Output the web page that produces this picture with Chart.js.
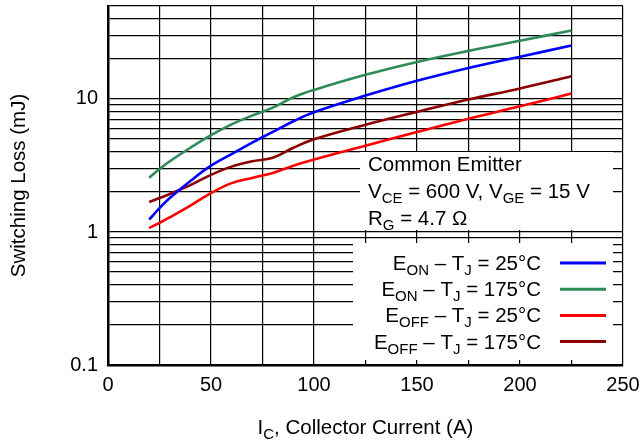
<!DOCTYPE html>
<html><head><meta charset="utf-8">
<script src="https://cdn.jsdelivr.net/npm/chart.js@4/dist/chart.umd.min.js"></script>
<style>html,body{margin:0;padding:0;background:#fff;overflow:hidden}#wrap{width:640px;height:443px;position:relative}</style>
</head><body><div id="wrap"><canvas id="c" width="640" height="443"></canvas></div>
<script>
const currentA  = [20, 25, 30, 40, 50, 60, 70, 80, 90, 100, 125, 150, 175, 200, 225];
const eonTj25   = [1.24, 1.51, 1.80, 2.42, 3.15, 3.85, 4.7, 5.65, 6.8, 7.95, 10.6, 13.7, 17.1, 20.8, 25.2];
const eonTj175  = [2.56, 2.97, 3.4, 4.3, 5.35, 6.45, 7.5, 8.6, 10.3, 11.7, 15.2, 19.0, 23.0, 27.4, 32.7];
const eoffTj25  = [1.07, 1.17, 1.29, 1.58, 1.96, 2.33, 2.55, 2.78, 3.15, 3.5, 4.45, 5.64, 7.1, 8.8, 11.0];
const eoffTj175 = [1.68, 1.80, 1.93, 2.25, 2.69, 3.1, 3.4, 3.62, 4.3, 4.98, 6.4, 8.0, 9.9, 12.0, 14.8];
const xTickLabels = [0, 50, 100, 150, 200, 250];
const yTickLabels = [0.1, 1, 10];
const yMin = 0.1, yMax = 50, xMin = 0, xMax = 250, xStep = 25;

const legendRuns = [
  [['E',0],['ON',1],[' \u2013 T',0],['J',1],[' = 25\u00B0C',0]],
  [['E',0],['ON',1],[' \u2013 T',0],['J',1],[' = 175\u00B0C',0]],
  [['E',0],['OFF',1],[' \u2013 T',0],['J',1],[' = 25\u00B0C',0]],
  [['E',0],['OFF',1],[' \u2013 T',0],['J',1],[' = 175\u00B0C',0]]
];
const noteRuns = [
  [['Common Emitter',0]],
  [['V',0],['CE',1],[' = 600 V, V',0],['GE',1],[' = 15 V',0]],
  [['R',0],['G',1],[' = 4.7 \u03A9',0]]
];
const colors = ['#0000ff', '#2e8b57', '#ff0000', '#8b0000'];
const seriesVals = [eonTj25, eonTj175, eoffTj25, eoffTj175];

const FAM = '"Liberation Sans", Arial, Helvetica, sans-serif';
const MAIN = 20.5, SUB = 15, SUBDY = 5, TICK = 20;

function runsWidth(ctx, runs){
  let w = 0;
  for (const [t,s] of runs){ ctx.font = (s?SUB:MAIN)+'px '+FAM; w += ctx.measureText(t).width; }
  return w;
}
function drawRuns(ctx, runs, x, y, align){
  let cx = align === 'right' ? x - runsWidth(ctx, runs) : align === 'center' ? x - runsWidth(ctx, runs)/2 : x;
  ctx.textBaseline = 'alphabetic'; ctx.textAlign = 'left'; ctx.fillStyle = '#000';
  for (const [t,s] of runs){
    ctx.font = (s?SUB:MAIN)+'px '+FAM;
    ctx.fillText(t, cx, y + (s?SUBDY:0));
    cx += ctx.measureText(t).width;
  }
}

const decor = {
  id: 'decor',
  beforeDatasetsDraw(chart){
    const {ctx, chartArea: a} = chart;
    ctx.save(); ctx.fillStyle = '#fff';
    ctx.fillRect(360, 152, a.right - 10 - 360, 230 - 152);
    ctx.fillRect(353, 243, a.right - 10 - 353, 360 - 243);
    ctx.restore();
  },
  afterDraw(chart){
    const {ctx, chartArea: a} = chart;
    ctx.save();
    noteRuns.forEach((r, i) => drawRuns(ctx, r, 368, 171 + i*26.8, 'left'));
    legendRuns.forEach((r, i) => {
      const yc = 263 + i*26.2;
      drawRuns(ctx, r, 541, yc + 7, 'right');
      ctx.strokeStyle = colors[i]; ctx.lineWidth = 3;
      ctx.beginPath(); ctx.moveTo(560, yc); ctx.lineTo(606, yc); ctx.stroke();
    });
    drawRuns(ctx, [['I',0],['C',1],[', Collector Current (A)',0]], (a.left + a.right)/2, 434, 'center');
    ctx.translate(25, (a.top + a.bottom)/2);
    ctx.rotate(-Math.PI/2);
    ctx.font = MAIN+'px '+FAM; ctx.textAlign = 'center'; ctx.textBaseline = 'alphabetic'; ctx.fillStyle = '#000';
    ctx.fillText('Switching Loss (mJ)', 0, 0);
    ctx.restore();
  }
};

const datasets = seriesVals.map((vals, i) => ({
  data: currentA.map((x, k) => ({x, y: vals[k]})),
  borderColor: colors[i], borderWidth: 2.6, pointRadius: 0,
  tension: 0.4, fill: false
}));

const near = (v, list) => list.some(t => Math.abs(v - t) < 1e-9 * Math.max(1, t));

new Chart(document.getElementById('c'), {
  type: 'line',
  data: { datasets },
  options: {
    responsive: false, animation: false, devicePixelRatio: 1,
    layout: { padding: { left: 0, top: 6, right: 17, bottom: 0 } },
    plugins: { legend: { display: false }, tooltip: { enabled: false } },
    scales: {
      x: {
        type: 'linear', min: xMin, max: xMax,
        afterBuildTicks(s){ const t=[]; for(let v=xMin; v<=xMax; v+=xStep) t.push({value:v}); s.ticks=t; },
        afterFit(s){ s.height = 78; s.paddingLeft = 0; s.paddingRight = 0; },
        ticks: { autoSkip: false, maxRotation: 0, padding: 8, color: '#000', font: { family: FAM, size: TICK },
          callback: v => near(v, xTickLabels) ? String(v) : '' },
        grid: { color: '#000', lineWidth: 1.2, drawTicks: false },
        border: { display: true, color: '#000', width: 2.5 }
      },
      y: {
        type: 'logarithmic', min: yMin, max: yMax,
        afterBuildTicks(s){
          const t=[];
          for (const dec of [0.1, 1, 10]) for (let m=1; m<=9; m++){ const v = +(m*dec).toPrecision(6); if (v<=yMax) t.push({value:v}); }
          s.ticks = t;
        },
        afterFit(s){ s.width = 108; s.paddingTop = 0; s.paddingBottom = 0; },
        ticks: { autoSkip: false, padding: 10, color: '#000', font: { family: FAM, size: TICK },
          callback: v => near(v, yTickLabels) ? String(v) : '' },
        grid: { color: '#000', lineWidth: 1.2, drawTicks: false },
        border: { display: true, color: '#000', width: 2.5 }
      }
    }
  },
  plugins: [decor]
});
</script></body></html>
